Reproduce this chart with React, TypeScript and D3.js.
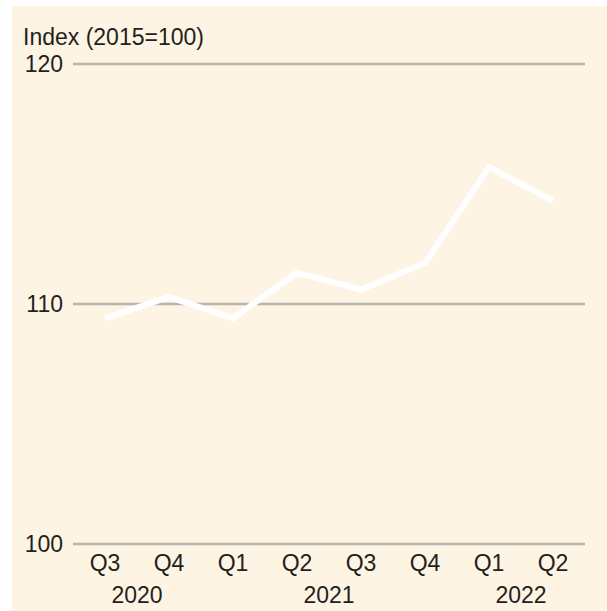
import React from "react";
import * as d3 from "d3";

const quarters = ["Q3", "Q4", "Q1", "Q2", "Q3", "Q4", "Q1", "Q2"];
const values = [109.4, 110.3, 109.4, 111.3, 110.6, 111.7, 115.7, 114.3];
const years = [
  { label: "2020", from: 0, to: 1 },
  { label: "2021", from: 2, to: 5 },
  { label: "2022", from: 6, to: 7 },
];
const yTicks = [100, 110, 120];
const title = "Index (2015=100)";

const W = 607;
const H = 611;
const FONT = "'Liberation Sans', Arial, sans-serif";

export default function App() {
  const x = d3
    .scaleBand<number>()
    .domain(quarters.map((_, i) => i))
    .range([73, 585]);
  const y = d3.scaleLinear().domain([100, 120]).range([544, 64]);
  const cx = (i: number) => (x(i) as number) + x.bandwidth() / 2;
  const line = d3
    .line<number>()
    .x((_, i) => cx(i))
    .y((d) => y(d));

  return (
    <svg
      width={W}
      height={H}
      style={{ position: "absolute", left: 0, top: 0, display: "block" }}
    >
      <rect x={0} y={0} width={W} height={H} fill="#ffffff" />
      <rect x={12} y={6} width={W - 12} height={H - 6} fill="#fdf4e3" />
      <text x={23} y={45} fontFamily={FONT} fontSize={23} fill="#231f20">
        {title}
      </text>
      {yTicks.map((t) => (
        <g key={t}>
          <line
            x1={73}
            x2={585}
            y1={y(t)}
            y2={y(t)}
            stroke="#b5b5b5"
            strokeWidth={2.5}
          />
          <text
            x={63}
            y={y(t) + 8}
            textAnchor="end"
            fontFamily={FONT}
            fontSize={23}
            fill="#231f20"
          >
            {t}
          </text>
        </g>
      ))}
      <path
        d={line(values) || ""}
        fill="none"
        stroke="#ffffff"
        strokeWidth={6}
        strokeLinejoin="miter"
      />
      {quarters.map((q, i) => (
        <text
          key={i}
          x={cx(i)}
          y={571}
          textAnchor="middle"
          fontFamily={FONT}
          fontSize={23}
          fill="#231f20"
        >
          {q}
        </text>
      ))}
      {years.map((yr) => (
        <text
          key={yr.label}
          x={(cx(yr.from) + cx(yr.to)) / 2}
          y={603}
          textAnchor="middle"
          fontFamily={FONT}
          fontSize={23}
          fill="#231f20"
        >
          {yr.label}
        </text>
      ))}
    </svg>
  );
}
